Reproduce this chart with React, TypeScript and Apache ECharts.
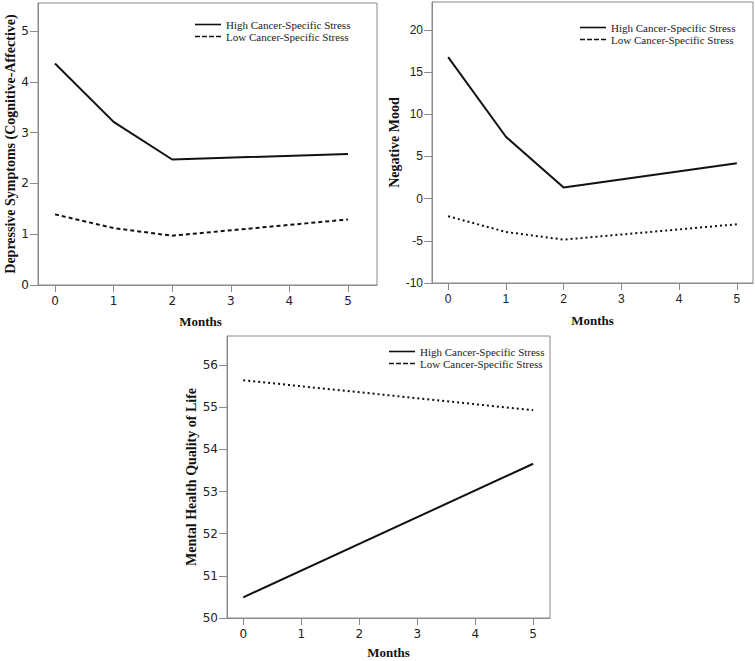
import React, { useEffect, useRef } from "react";
import * as echarts from "echarts";

const HIGH = "High Cancer-Specific Stress";
const LOW = "Low Cancer-Specific Stress";

const months = [0, 1, 2, 5];
const xTicks = [0, 1, 2, 3, 4, 5];

// Panel 1: Depressive Symptoms (Cognitive-Affective)
const depHigh = [4.36, 3.21, 2.47, 2.58];
const depLow = [1.39, 1.12, 0.97, 1.29];
const depTicks = [0, 1, 2, 3, 4, 5];

// Panel 2: Negative Mood
const moodHigh = [16.76, 7.33, 1.32, 4.2];
const moodLow = [-2.09, -3.95, -4.86, -3.04];
const moodTicks = [-10, -5, 0, 5, 10, 15, 20];

// Panel 3: Mental Health Quality of Life
const mhMonths = [0, 5];
const mhHigh = [50.49, 53.66];
const mhLow = [55.64, 54.93];
const mhTicks = [50, 51, 52, 53, 54, 55, 56];

const pair = (xs: number[], ys: number[]) => xs.map((x, i) => [x, ys[i]]);

export default function App() {
  const ref = useRef<HTMLDivElement>(null);
  useEffect(() => {
    if (!ref.current) return;
    const chart = echarts.init(ref.current, null, { renderer: "svg" });
    const grey = "#8a8a8a";
    const serif = "Liberation Serif";
    const mkX = (idx: number, min: number, max: number, font: string, nameGap: number, namePad: number[]) => ({
      type: "value",
      gridIndex: idx,
      min,
      max,
      splitLine: { show: false },
      axisLine: { show: true, onZero: false, lineStyle: { color: grey, width: 1 } },
      axisTick: { show: true, customValues: xTicks, length: 7, lineStyle: { color: grey } },
      axisLabel: { customValues: xTicks, color: "#222", fontFamily: font, fontSize: 12, margin: 10 },
      name: "Months",
      nameLocation: "middle",
      nameGap,
      nameTextStyle: { fontFamily: serif, fontWeight: "bold", fontSize: 13, color: "#111", padding: namePad },
    });
    const mkY = (idx: number, min: number, max: number, ticks: number[], font: string, name: string, nameGap: number) => ({
      type: "value",
      gridIndex: idx,
      min,
      max,
      splitLine: { show: false },
      axisLine: { show: true, onZero: false, lineStyle: { color: grey, width: 1 } },
      axisTick: { show: true, customValues: ticks, length: 8, lineStyle: { color: grey } },
      axisLabel: { customValues: ticks, color: "#222", fontFamily: font, fontSize: 12, margin: 9 },
      name,
      nameLocation: "middle",
      nameRotate: 90,
      nameGap,
      nameTextStyle: { fontFamily: serif, fontWeight: "bold", fontSize: 14, color: "#111" },
    });
    const mkLegend = (left: number, top: number) => ({
      orient: "vertical",
      left,
      top,
      padding: 0,
      itemGap: 1,
      itemWidth: 26,
      itemHeight: 8,
      textStyle: { fontFamily: serif, fontSize: 11, color: "#222" },
      data: [
        { name: HIGH, icon: "path://M0,0L26,0L26,1.6L0,1.6Z", itemStyle: { color: "#111" } },
        {
          name: LOW,
          icon: "path://M0,0L5,0L5,1.6L0,1.6ZM7,0L12,0L12,1.6L7,1.6ZM14,0L19,0L19,1.6L14,1.6ZM21,0L26,0L26,1.6L21,1.6Z",
          itemStyle: { color: "#111" },
        },
      ],
      selectedMode: false,
    });
    const line = (name: string, xi: number, data: number[][], type: any) => ({
      type: "line",
      name,
      xAxisIndex: xi,
      yAxisIndex: xi,
      data,
      symbol: "none",
      lineStyle: { color: "#111", width: 2, type },
      itemStyle: { color: "#111" },
    });
    chart.setOption({
      animation: false,
      grid: [
        { left: 38, top: 3, width: 339, height: 282, show: true, borderColor: grey, borderWidth: 1, containLabel: false },
        { left: 432, top: 2, width: 321, height: 281, show: true, borderColor: grey, borderWidth: 1, containLabel: false },
        { left: 227, top: 336, width: 323, height: 282, show: true, borderColor: grey, borderWidth: 1, containLabel: false },
      ],
      xAxis: [
        mkX(0, -0.29, 5.495, "DejaVu Sans", 30, [0, 14, 0, 0]),
        mkX(1, -0.28, 5.28, "Liberation Sans", 31, [0, 0, 0, 0]),
        mkX(2, -0.28, 5.29, "DejaVu Sans", 28, [0, 0, 0, 0]),
      ],
      yAxis: [
        mkY(0, 0, 5.55, depTicks, "DejaVu Sans", "Depressive Symptoms (Cognitive-Affective)", 19),
        mkY(1, -10, 23.3, moodTicks, "Liberation Sans", "Negative Mood", 30),
        mkY(2, 50, 56.69, mhTicks, "DejaVu Sans", "Mental Health Quality of Life", 28),
      ],
      legend: [mkLegend(195, 19), mkLegend(580, 22), mkLegend(389, 346)],
      series: [
        line(HIGH, 0, pair(months, depHigh), "solid"),
        line(LOW, 0, pair(months, depLow), [4, 3]),
        line(HIGH, 1, pair(months, moodHigh), "solid"),
        line(LOW, 1, pair(months, moodLow), [2, 3]),
        line(HIGH, 2, pair(mhMonths, mhHigh), "solid"),
        line(LOW, 2, pair(mhMonths, mhLow), [2, 3]),
      ],
    });
    return () => chart.dispose();
  }, []);
  return (
    <div
      ref={ref}
      style={{ position: "fixed", left: 0, top: 0, width: 755, height: 661, background: "#fff" }}
    />
  );
}
